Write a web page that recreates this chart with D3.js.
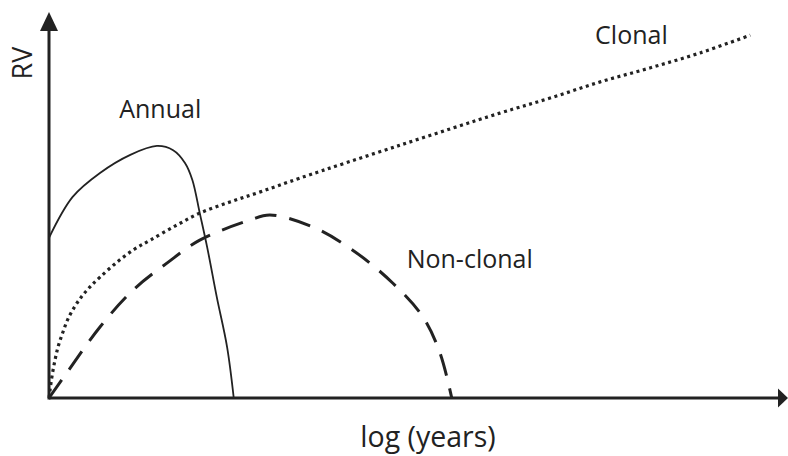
<!DOCTYPE html>
<html>
<head>
<meta charset="utf-8">
<script src="https://cdn.jsdelivr.net/npm/d3@7"></script>
<style>
  body { margin: 0; background: #fff; }
  text { font-family: "Open Sans", sans-serif; fill: #222; }
</style>
</head>
<body>
<svg id="Vis" width="788" height="456"></svg>
<script>
/*
* DATA (arbitrary units: x = log years, y = RV)
*/
const annualX = [0, 3.2, 6.9, 11.0, 14.6, 16.8, 18.4, 19.4, 20.4, 21.4, 22.7, 24.1, 25.0];
const annualY = [41.5, 52.1, 58.3, 63.0, 65.3, 64.2, 60.9, 56.5, 47.9, 39.1, 26.2, 13.2, 0];

const nonClonalX = [0, 2.4, 6.9, 11.4, 16.0, 20.4, 27.2, 29.9, 35.7, 41.1, 46.5, 50.6, 52.9, 54.5];
const nonClonalY = [0, 6.5, 18.4, 28.0, 35.0, 40.9, 46.1, 47.4, 44.3, 38.3, 29.8, 21.0, 11.7, 0];

const clonalX = [0, 0.14, 0.41, 0.81, 1.22, 1.89, 2.57, 3.52, 4.47, 5.55, 6.9, 9.2, 11.6, 13.7, 17.1, 20.4,
                 24.5, 28.6, 34.0, 47.5, 61.0, 67.8, 74.6, 81.3, 88.1, 94.9];
const clonalY = [0, 2.07, 5.7, 9.8, 13.2, 17.1, 20.5, 23.8, 26.4, 28.8, 31.3, 35.2, 38.6, 40.9, 44.6, 47.9,
                 50.8, 53.4, 57.0, 65.5, 73.8, 77.7, 81.9, 85.5, 89.4, 94.0];

const seriesNames = ["Annual", "Non-clonal", "Clonal"];
const xLabel = "log (years)";
const yLabel = "RV";

/*
* SETUP
*/
const svg = d3.select("svg#Vis");

const x = d3.scaleLinear().domain([0, 100]).range([49, 788]);
const y = d3.scaleLinear().domain([0, 100]).range([398, 12]);

const ink = "#222";

/* Axes with arrow heads */
const axes = svg.append("g").attr("id", "axes");
const head = 10;

axes.append("line")
  .attr("x1", x(0)).attr("y1", y(0))
  .attr("x2", x(100) - head).attr("y2", y(0))
  .attr("stroke", ink).attr("stroke-width", 3);

axes.append("line")
  .attr("x1", x(0)).attr("y1", y(0) + 1.5)
  .attr("x2", x(0)).attr("y2", y(100) + 16)
  .attr("stroke", ink).attr("stroke-width", 3);

axes.append("path")
  .attr("d", d3.line()([[x(100), y(0)], [x(100) - head, y(0) - 9.5], [x(100) - head, y(0) + 9.5]]) + "Z")
  .attr("fill", ink);

axes.append("path")
  .attr("d", d3.line()([[x(0), y(100)], [x(0) - 9, y(100) + 19], [x(0) + 9, y(100) + 19]]) + "Z")
  .attr("fill", ink);

/*
* CURVES
*/
const line = d3.line()
  .x(d => x(d[0]))
  .y(d => y(d[1]))
  .curve(d3.curveCatmullRom.alpha(0.5));

const curves = [
  { name: "Annual", xs: annualX, ys: annualY, width: 1.8, dash: null },
  { name: "Non-clonal", xs: nonClonalX, ys: nonClonalY, width: 3, dash: "22 13" },
  { name: "Clonal", xs: clonalX, ys: clonalY, width: 3.2, dash: "3 3.6" }
];

svg.append("g").attr("id", "curves")
  .selectAll("path")
  .data(curves)
  .join("path")
    .attr("d", d => line(d3.zip(d.xs, d.ys)))
    .attr("fill", "none")
    .attr("stroke", ink)
    .attr("stroke-width", d => d.width)
    .attr("stroke-dasharray", d => d.dash);

/*
* LABELS
*/
const labels = svg.append("g").attr("id", "labels").style("font-size", "25px");

// series labels placed in data units
const labelPos = [[9.5, 72.6], [48.4, 33.7], [73.9, 91.7]];
labels.selectAll("text.series")
  .data(seriesNames)
  .join("text")
    .attr("class", "series")
    .attr("x", (d, i) => x(labelPos[i][0]))
    .attr("y", (d, i) => y(labelPos[i][1]))
    .text(d => d);

labels.append("text")
  .attr("x", 428)
  .attr("y", 447)
  .attr("text-anchor", "middle")
  .style("font-size", "28.5px")
  .text(xLabel);

labels.append("text")
  .attr("transform", "translate(32,63) rotate(-90)")
  .attr("text-anchor", "middle")
  .style("font-size", "27px")
  .text(yLabel);
</script>
</body>
</html>
